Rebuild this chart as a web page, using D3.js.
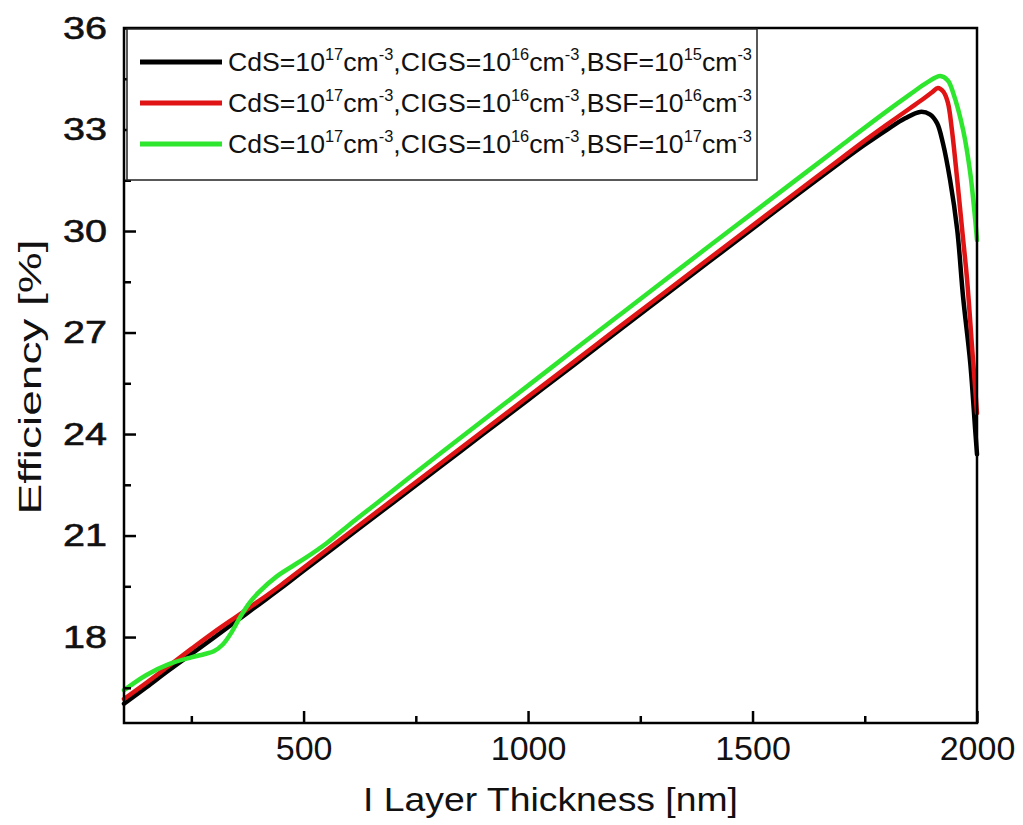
<!DOCTYPE html>
<html>
<head>
<meta charset="utf-8">
<script src="https://cdn.jsdelivr.net/npm/d3@7"></script>
<style>
  html, body { margin: 0; padding: 0; background: #fff; }
  svg { display: block; font-family: "Liberation Sans", Arial, sans-serif; }
</style>
</head>
<body>
<svg id="chart" width="1023" height="825"></svg>
<script>
// ---- data ----
const blackX = [100,150,200,250,300,350,400,450,500,600,700,800,900,1000,1100,1200,1300,1400,1500,1600,1700,1750,1800,1840,1873,1895,1911,1924,1940,1956,1969,1985,1996,2000];
const blackY = [16.03,16.52,17.02,17.50,17.98,18.47,18.96,19.45,19.96,20.97,21.98,22.99,24.00,25.01,26.02,27.04,28.05,29.06,30.07,31.08,32.07,32.55,33.00,33.33,33.52,33.45,33.19,32.60,31.51,30.03,28.05,26.10,24.12,23.40];

const redX = [100,150,200,250,300,350,400,450,500,600,700,800,900,1000,1100,1200,1300,1400,1500,1600,1700,1750,1800,1850,1880,1900,1913,1925,1935,1944,1956,1967,1978,1989,2000];
const redY = [16.17,16.65,17.15,17.65,18.14,18.60,19.06,19.54,20.05,21.06,22.07,23.08,24.09,25.10,26.11,27.13,28.14,29.15,30.16,31.17,32.17,32.67,33.15,33.62,33.90,34.10,34.23,34.12,33.80,33.00,31.51,30.03,28.55,26.57,24.62];

const greenX = [100,150,200,250,280,300,320,340,360,380,400,441,500,552,600,700,800,900,1000,1100,1200,1300,1400,1500,1600,1700,1800,1850,1890,1918,1935,1947,1969,1985,1996,2000];
const greenY = [16.43,16.88,17.20,17.40,17.50,17.58,17.78,18.15,18.62,19.02,19.32,19.80,20.30,20.78,21.30,22.34,23.38,24.41,25.43,26.46,27.48,28.50,29.52,30.53,31.54,32.55,33.55,34.03,34.40,34.58,34.45,34.08,32.99,31.71,30.33,29.73];

const seriesNames = ["black", "red", "green"];
const seriesColors = ["#000000", "#e01414", "#2ee62e"];
const bsfExp = ["15", "16", "17"];

const xMajorTicks = [500, 1000, 1500, 2000];
const xMinorTicks = [250, 750, 1250, 1750];
const yMajorTicks = [18, 21, 24, 27, 30, 33, 36];
const yMinorTicks = [16.5, 19.5, 22.5, 25.5, 28.5, 31.5, 34.5];

const xLabel = "I Layer Thickness [nm]";
const yLabel = "Efficiency [%]";

// ---- layout ----
const L = 124, R = 977, T = 28, B = 723;
const svg = d3.select("#chart");

const x = d3.scaleLinear().domain([100, 2000]).range([L, R]);
const y = d3.scaleLinear().domain([15.46, 36]).range([B, T]);

// series
const series = [
  blackX.map((v, i) => [v, blackY[i]]),
  redX.map((v, i) => [v, redY[i]]),
  greenX.map((v, i) => [v, greenY[i]])
];
const line = d3.line().x(d => x(d[0])).y(d => y(d[1])).curve(d3.curveCatmullRom.alpha(0.5));

svg.append("g").selectAll("path").data(series).join("path")
  .attr("d", line)
  .attr("fill", "none")
  .attr("stroke", (d, i) => seriesColors[i])
  .attr("stroke-width", 4.5)
  .attr("stroke-linejoin", "round")
  .attr("stroke-linecap", "round");

// axes
const gy = svg.append("g").attr("transform", `translate(${L},0)`)
  .call(d3.axisLeft(y).tickValues(yMajorTicks).tickSize(-12).tickPadding(17).tickFormat(d3.format("d")));
const gyMinor = svg.append("g").attr("transform", `translate(${L},0)`)
  .call(d3.axisLeft(y).tickValues(yMinorTicks).tickSize(-7).tickFormat(""));
const gx = svg.append("g").attr("transform", `translate(0,${B})`)
  .call(d3.axisBottom(x).tickValues(xMajorTicks).tickSize(-12).tickPadding(13).tickFormat(d3.format("d")));
const gxMinor = svg.append("g").attr("transform", `translate(0,${B})`)
  .call(d3.axisBottom(x).tickValues(xMinorTicks).tickSize(-7).tickFormat(""));

[gy, gyMinor, gx, gxMinor].forEach(g => {
  g.select(".domain").remove();
  g.selectAll("line").attr("stroke", "#000").attr("stroke-width", 2.5);
});
gy.selectAll("text")
  .attr("font-size", 32).attr("fill", "#111")
  .attr("font-family", "Liberation Sans, Arial, sans-serif")
  .attr("stroke", "#111").attr("stroke-width", 0.6)
  .attr("textLength", 44).attr("lengthAdjust", "spacingAndGlyphs");
gx.selectAll("text")
  .attr("font-size", 34).attr("fill", "#111")
  .attr("font-family", "Liberation Sans, Arial, sans-serif");

// frame
svg.append("rect")
  .attr("x", L).attr("y", T).attr("width", R - L).attr("height", B - T)
  .attr("fill", "none").attr("stroke", "#000").attr("stroke-width", 2.5);

// axis titles
svg.append("text")
  .attr("transform", `translate(41,377) rotate(-90)`)
  .attr("text-anchor", "middle")
  .attr("font-size", 32).attr("fill", "#111")
  .attr("textLength", 275).attr("lengthAdjust", "spacingAndGlyphs")
  .text(yLabel);
svg.append("text")
  .attr("x", (L + R) / 2).attr("y", 811)
  .attr("text-anchor", "middle")
  .attr("font-size", 34).attr("fill", "#111")
  .attr("textLength", 375).attr("lengthAdjust", "spacingAndGlyphs")
  .text(xLabel);

// legend
const leg = svg.append("g");
leg.append("rect")
  .attr("x", 127).attr("y", 29).attr("width", 630).attr("height", 151)
  .attr("fill", "#fff").attr("stroke", "#222").attr("stroke-width", 1.5);
const rowY = [62, 103, 144];
seriesNames.forEach((n, i) => {
  leg.append("line")
    .attr("x1", 140).attr("x2", 222).attr("y1", rowY[i]).attr("y2", rowY[i])
    .attr("stroke", seriesColors[i]).attr("stroke-width", 5);
  const t = leg.append("text")
    .attr("x", 228).attr("y", rowY[i] + 9)
    .attr("font-size", 26).attr("fill", "#111")
    .attr("textLength", 524).attr("lengthAdjust", "spacingAndGlyphs");
  const parts = [
    ["CdS=10", false], ["17", true], ["cm", false], ["-3", true],
    [",CIGS=10", false], ["16", true], ["cm", false], ["-3", true],
    [",BSF=10", false], [bsfExp[i], true], ["cm", false], ["-3", true]
  ];
  let up = false;
  parts.forEach(([s, sup]) => {
    const ts = t.append("tspan").text(s);
    if (sup && !up) { ts.attr("dy", -11).attr("font-size", 16); up = true; }
    else if (sup) { ts.attr("font-size", 16); }
    else if (!sup && up) { ts.attr("dy", 11); up = false; }
  });
});
</script>
</body>
</html>
